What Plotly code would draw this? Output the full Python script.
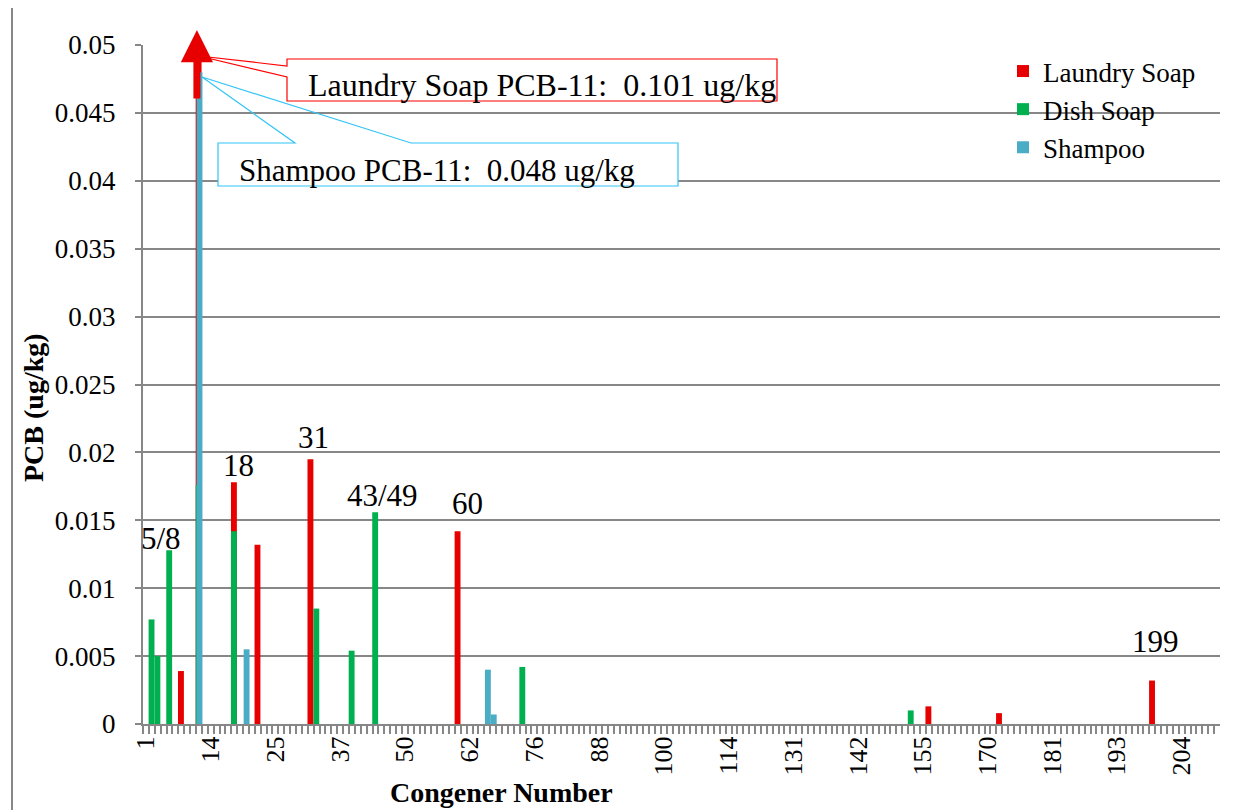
import plotly.graph_objects as go

# ---------------- data ----------------
categories = [
    "1", "2", "3", "4", "5/8", "6", "7", "9", "10", "11", "12/13",
    "14", "15", "16", "17", "18", "19", "20", "21", "22", "23", "24",
    "25", "26", "27", "28", "29", "30", "31", "32", "33/34", "35", "36",
    "37", "38", "39", "40", "41", "42", "43/49", "44", "45", "46", "47/48",
    "50", "51", "52", "53", "54", "55", "56", "57/58", "59", "60", "61",
    "62", "63", "64", "65", "66", "67", "68", "69/70", "71/72", "73/74", "75",
    "76", "77", "78", "79", "80", "81", "82", "83", "84", "85/86", "87",
    "88", "89", "90", "91", "92", "93", "94", "95", "96", "97", "98/99",
    "100", "101", "102", "103", "104", "105", "106/107", "108/109", "110", "111", "112/113",
    "114", "115/116", "117", "118", "119/120", "121/122", "123", "124/125", "126/127", "128", "129/130",
    "131", "132", "133", "134", "135", "136", "137", "138", "139", "140", "141",
    "142", "143", "144", "145", "146", "147/148", "149", "150", "151/152", "153", "154",
    "155", "156/157", "158", "159", "160/161", "162", "163/164", "165", "166", "167", "168/169",
    "170", "171", "172", "173", "174", "175", "176", "177", "178", "179", "180",
    "181", "182", "183", "184", "185", "186", "187", "188", "189", "190", "191/192",
    "193", "194", "195", "196", "197", "198", "199", "200", "201", "202", "203",
    "204", "205", "206", "207", "208", "209",
]

laundry_cats = ["7", "11", "18", "22", "31", "60", "156/157", "172", "199"]
laundry_vals = [0.0039, 0.101, 0.0178, 0.0132, 0.0195, 0.0142, 0.0013, 0.0008, 0.0032]

dish_cats = ["2", "3", "5/8", "11", "18", "32", "39", "43/49", "73/74", "153"]
dish_vals = [0.0077, 0.0050, 0.0128, 0.0176, 0.0142, 0.0085, 0.0054, 0.0156, 0.0042, 0.0010]

shampoo_cats = ["11", "20", "65", "66"]
shampoo_vals = [0.048, 0.0055, 0.0040, 0.0007]

y_ticks = [0, 0.005, 0.01, 0.015, 0.02, 0.025, 0.03, 0.035, 0.04, 0.045, 0.05]
y_tick_text = ["0", "0.005", "0.01", "0.015", "0.02", "0.025", "0.03", "0.035", "0.04", "0.045", "0.05"]

label_cats = ["5/8", "18", "31", "43/49", "60", "199"]
arrow_cat = "11"

laundry_note = "Laundry Soap PCB-11:\u00a0\u00a00.101 ug/kg"
shampoo_note = "Shampoo PCB-11:\u00a0\u00a00.048 ug/kg"

# ---------------- styles ----------------
RED = "#E60000"
GREEN = "#00B050"
BLUE = "#4BACC6"
GRID = "#878787"
SERIF = "Liberation Serif"

BODY = 8                      # default page margin of the html body
W_FIG, H_FIG = 1246 - BODY, 810 - BODY
L, R, T, B = 143, 1220, 45, 724   # plot area in page pixels
PW, PH = R - L, B - T


def px(x):
    return (x - L) / PW


def py(y):
    return (B - y) / PH


def cat_pos(c):
    return categories.index(c)


fig = go.Figure()
fig.add_trace(go.Bar(x=laundry_cats, y=laundry_vals, name="Laundry Soap",
                     marker=dict(color=RED, line=dict(width=0)),
                     width=1.0, offset=-0.55, legendgroup="a"))
fig.add_trace(go.Bar(x=dish_cats, y=dish_vals, name="Dish Soap",
                     marker=dict(color=GREEN, line=dict(width=0)),
                     width=1.0, offset=-0.55, legendgroup="b"))
fig.add_trace(go.Bar(x=shampoo_cats, y=shampoo_vals, name="Shampoo",
                     marker=dict(color=BLUE, line=dict(width=0)),
                     width=1.0, offset=-0.40, legendgroup="c"))

tick_text = [c if i % 11 == 0 else "" for i, c in enumerate(categories)]

fig.update_layout(
    width=W_FIG, height=H_FIG, autosize=False,
    margin=dict(l=L - BODY, r=1246 - R, t=T - BODY, b=810 - B, pad=0),
    paper_bgcolor="white", plot_bgcolor="white",
    barmode="overlay",
    font=dict(family=SERIF, color="black"),
    showlegend=True,
    legend=dict(x=px(1003), y=py(47), xanchor="left", yanchor="top",
                font=dict(family=SERIF, size=27, color="black"),
                bgcolor="rgba(0,0,0,0)", itemwidth=30, tracegroupgap=4,
                traceorder="normal"),
    xaxis=dict(type="category", categoryorder="array", categoryarray=categories,
               range=[-0.5, len(categories) + 0.5],
               tickmode="array", tickvals=categories, ticktext=tick_text,
               tickangle=-90, ticks="outside", ticklen=8, tickwidth=1.5,
               tickcolor=GRID, tickson="boundaries",
               showline=True, linecolor=GRID, linewidth=2,
               showgrid=False, zeroline=False,
               tickfont=dict(family=SERIF, size=26, color="black")),
    yaxis=dict(range=[0, 0.05], tickmode="array", tickvals=y_ticks, ticktext=y_tick_text,
               ticks="outside", ticklen=6, tickwidth=1.5, tickcolor=GRID,
               showline=True, linecolor=GRID, linewidth=2,
               showgrid=True, gridcolor=GRID, gridwidth=2, zeroline=False,
               ticklabelstandoff=14,
               tickfont=dict(family=SERIF, size=27, color="black")),
)

annotations = []

# data labels on highlighted congeners
label_dx = [-8, 4, 3, 7, 10, 3]
label_gap = [0, 5, 10, 5, 16, 28]
all_series = [(laundry_cats, laundry_vals), (dish_cats, dish_vals), (shampoo_cats, shampoo_vals)]
for cat, dx, gap in zip(label_cats, label_dx, label_gap):
    top = max(v for cs, vs in all_series for c, v in zip(cs, vs) if c == cat)
    annotations.append(dict(x=cat_pos(cat), y=top, xref="x", yref="y", text=cat,
                            showarrow=False, xanchor="center", yanchor="bottom",
                            xshift=dx, yshift=gap - 8,
                            font=dict(family=SERIF, size=31, color="black")))

# red arrow marking the off-scale laundry value
annotations.append(dict(x=cat_pos(arrow_cat), y=py(30), xref="x", yref="paper", text="",
                        showarrow=True, arrowhead=2, arrowsize=0.92, arrowwidth=7,
                        arrowcolor=RED, ax=0, ay=70, xshift=-2))

# callout texts
annotations.append(dict(x=px(306), y=py(105), xref="paper", yref="paper",
                        text=laundry_note, showarrow=False, xanchor="left", yanchor="bottom",
                        font=dict(family=SERIF, size=32, color="black")))
annotations.append(dict(x=px(237), y=py(190), xref="paper", yref="paper",
                        text=shampoo_note, showarrow=False, xanchor="left", yanchor="bottom",
                        font=dict(family=SERIF, size=31, color="black")))

# axis titles
annotations.append(dict(x=px(33), y=py(408), xref="paper", yref="paper",
                        text="<b>PCB (ug/kg)</b>", textangle=-90, showarrow=False,
                        xanchor="center", yanchor="middle",
                        font=dict(family=SERIF, size=28, color="black")))
annotations.append(dict(x=px(501), y=py(810), xref="paper", yref="paper",
                        text="<b>Congener Number</b>", showarrow=False,
                        xanchor="center", yanchor="bottom",
                        font=dict(family=SERIF, size=28, color="black")))


def path(points, close=True):
    s = "M " + " L ".join(f"{px(x):.5f},{py(y):.5f}" for x, y in points)
    return s + (" Z" if close else "")


shapes = []
# laundry callout
shapes.append(dict(type="rect", xref="paper", yref="paper", layer="above",
                   x0=px(287), x1=px(777), y0=py(101), y1=py(59),
                   fillcolor="white", line=dict(width=0)))
shapes.append(dict(type="path", xref="paper", yref="paper", layer="above",
                   path=path([(199, 56), (287, 66), (287, 59), (777, 59), (777, 101),
                              (287, 101), (287, 77)]),
                   line=dict(color="#FF0000", width=1.2), fillcolor="rgba(0,0,0,0)"))
# shampoo callout
shapes.append(dict(type="rect", xref="paper", yref="paper", layer="above",
                   x0=px(218), x1=px(678), y0=py(186), y1=py(143),
                   fillcolor="white", line=dict(width=0)))
shapes.append(dict(type="path", xref="paper", yref="paper", layer="above",
                   path=path([(202, 77), (295, 143), (218, 143), (218, 186), (678, 186),
                              (678, 143), (411, 143)]),
                   line=dict(color="#33C4F5", width=1.2), fillcolor="rgba(0,0,0,0)"))
# chart-area frame at left
shapes.append(dict(type="line", xref="paper", yref="paper", layer="above",
                   x0=px(12), x1=px(12), y0=py(810), y1=py(0),
                   line=dict(color=GRID, width=2)))

fig.update_layout(annotations=annotations, shapes=shapes)

fig.write_html("out.html")
